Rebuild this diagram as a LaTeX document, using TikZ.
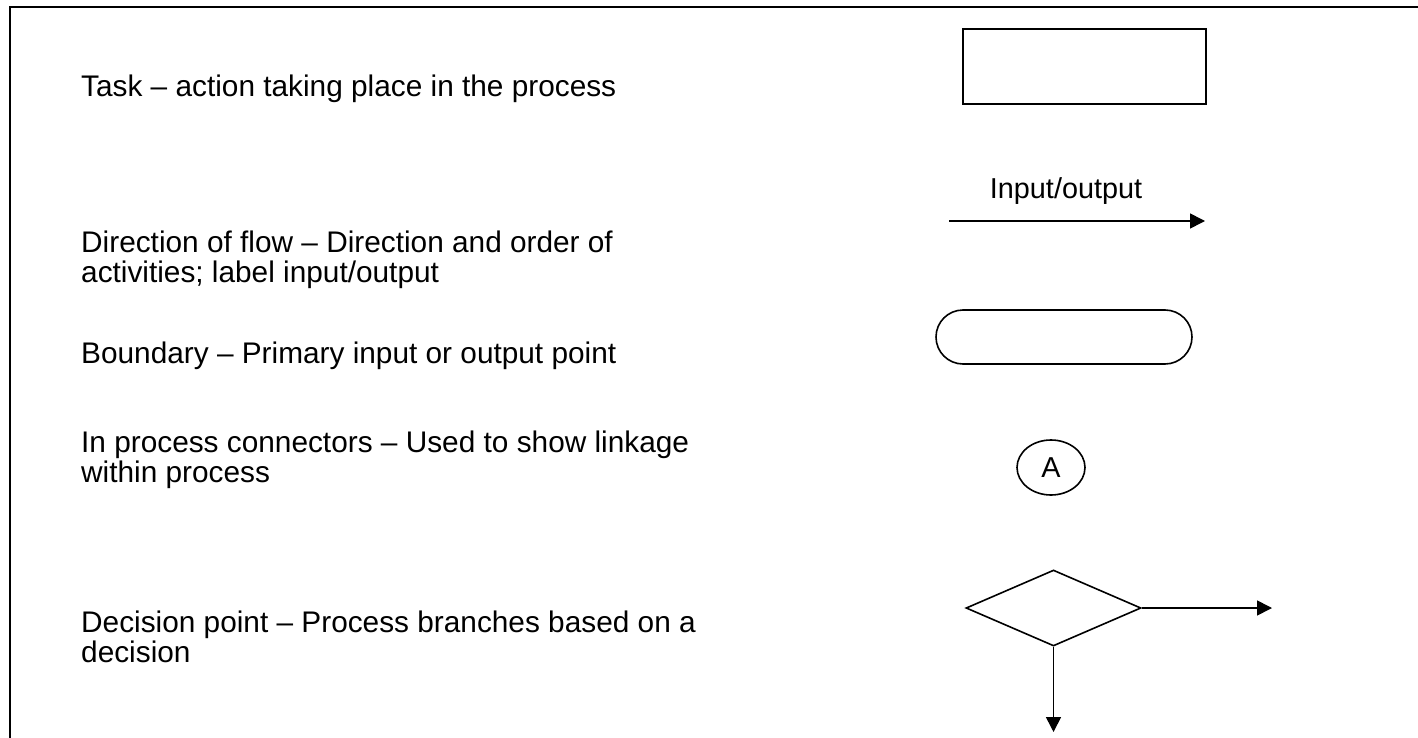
\documentclass[tikz,border=0pt]{standalone}
\usepackage{fontspec}
\setmainfont{Liberation Sans}
\usetikzlibrary{shapes,arrows,arrows.meta}
\tikzstyle{line} = [draw, line width=1.6pt, -{Triangle[length=15pt,width=15pt]}]
\tikzstyle{desc} = [anchor=west, align=left, inner sep=0pt, font=\fontsize{29.8}{29.8}\selectfont]
\tikzstyle{task} = [rectangle, draw, line width=2.2pt, minimum width=243pt, minimum height=75pt]
\tikzstyle{bound} = [rectangle, draw, line width=1.6pt, rounded corners=27pt, minimum width=256pt, minimum height=54pt]
\tikzstyle{conn} = [ellipse, draw, line width=1.6pt, minimum width=68pt, minimum height=55pt, inner sep=0pt, font=\fontsize{28.8}{29}\selectfont]
\tikzstyle{decide} = [diamond, draw, line width=1.6pt, minimum width=175pt, minimum height=76pt, inner sep=0pt]

\begin{document}
\begin{tikzpicture}[x=1pt, y=-1pt]
\useasboundingbox (0,0) rectangle (1418,738);
\draw [line width=2.2pt] (10,7) rectangle (1440,760);

% descriptions
\node [desc] (t_task) at (81,89) {Task – action taking place in the process};
\node [desc] (t_flow) at (81,259.5) {Direction of flow – Direction and order of\\activities; label input/output};
\node [desc] (t_bound) at (81,355.5) {Boundary – Primary input or output point};
\node [desc] (t_conn) at (81,460) {In process connectors – Used to show linkage\\within process};
\node [desc] (t_dec) at (81,637) {Decision point – Process branches based on a\\decision};

% symbols
\node [task] (task) at (1084.5,66.5) {};

\coordinate (flow_in) at (949,221);
\coordinate (flow_out) at (1205,221);
\path [line] (flow_in) to (flow_out);
\node [font=\fontsize{28.8}{29}\selectfont, inner sep=0pt] (flow_lbl) at (1066,191) {Input/output};

\node [bound, below of=task, node distance=270.5pt, xshift=-20.5pt] (bound) {};

\node [conn, below of=bound, node distance=130.5pt, xshift=-13pt] (conn) {A};

\node [decide, below of=conn, node distance=140.5pt, xshift=2.5pt] (decide) {};
\coordinate (dec_right) at (1272,608);
\coordinate (dec_down) at (1053.5,732);
\path [line] (decide.east) to (dec_right);
\path [line] (decide.south) to (dec_down);

\end{tikzpicture}
\end{document}
